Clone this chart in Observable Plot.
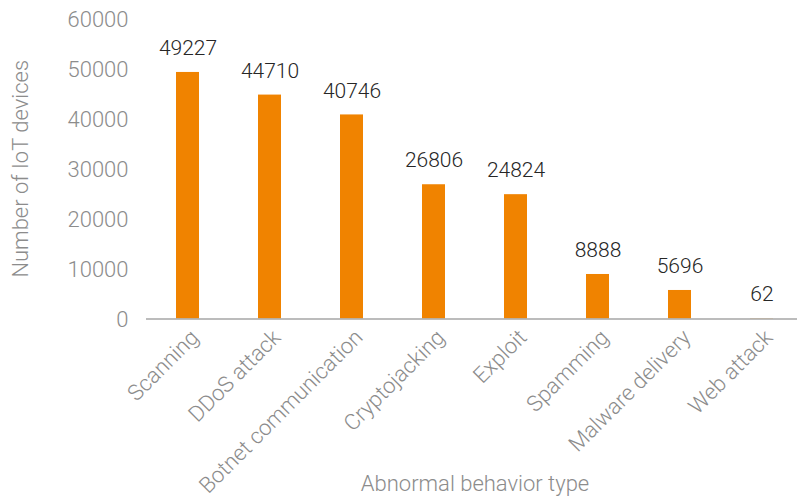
<!DOCTYPE html>
<html>
<head>
<meta charset="utf-8">
<script src="https://cdn.jsdelivr.net/npm/d3@7"></script>
<script src="https://cdn.jsdelivr.net/npm/@observablehq/plot@0.6"></script>
<style>
  html, body { margin: 0; padding: 0; background: #fff; }
  #chart svg { font-family: Roboto, "Noto Sans", sans-serif; font-weight: 300; }
</style>
</head>
<body>
<div id="chart"></div>
<script>
// Abnormal behaviour types and the number of IoT devices showing each
const behaviors = ["Scanning", "DDoS attack", "Botnet communication", "Cryptojacking", "Exploit", "Spamming", "Malware delivery", "Web attack"];
const deviceCounts = [49227, 44710, 40746, 26806, 24824, 8888, 5696, 62];
const yTicks = [0, 10000, 20000, 30000, 40000, 50000, 60000];

const rows = behaviors.map((behavior, i) => ({behavior, count: deviceCounts[i]}));

const orange = "#f08300";
const gray = "#8c8c8c";

const chart = Plot.plot({
  width: 797,
  height: 504,
  marginTop: 18,
  marginBottom: 185.5,
  marginLeft: 146,
  marginRight: 0,
  style: {fontFamily: "Roboto, 'Noto Sans', sans-serif", fontSize: "22px", fontWeight: 300},
  x: {domain: behaviors, range: [145.3, 803.7], paddingInner: 0.72, paddingOuter: 0.36, align: 0.5},
  y: {domain: [0, 60000], ticks: yTicks},
  marks: [
    Plot.barY(rows, {x: "behavior", y: "count", fill: orange}),
    Plot.ruleY([0], {stroke: "#a6a6a6", strokeWidth: 1.5}),
    Plot.axisY(yTicks, {
      tickSize: 0, tickPadding: 18, fill: gray, fontSize: 22, dy: 1,
      tickFormat: d => String(d), label: null
    }),
    Plot.text(["Number of IoT devices"], {
      frameAnchor: "left", textAnchor: "middle", dx: -126, rotate: -90,
      fill: gray, fontSize: 22
    }),
    Plot.axisX({
      tickSize: 0, tickRotate: -45, textAnchor: "end", fill: gray, fontSize: 22,
      dx: 7, dy: 3, label: null
    }),
    Plot.text(["Abnormal behavior type"], {
      frameAnchor: "bottom", dx: 3, dy: 172, fill: gray, fontSize: 22
    }),
    Plot.text(rows, {
      x: "behavior", y: "count", text: d => String(d.count),
      dy: -24, fill: "#262626", fontSize: 21
    })
  ]
});

document.getElementById("chart").appendChild(chart);
</script>
</body>
</html>
